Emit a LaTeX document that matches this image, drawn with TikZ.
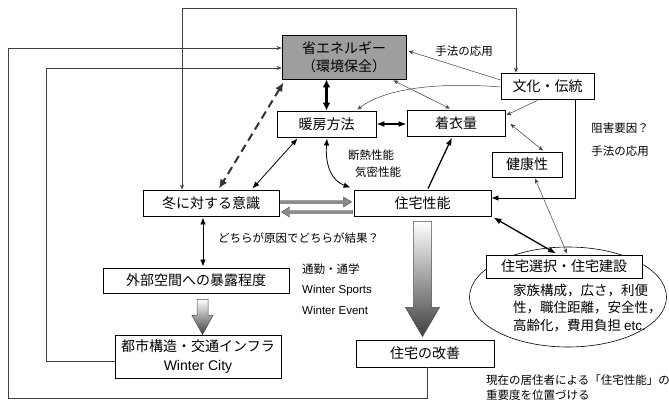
\documentclass[tikz,border=0pt]{standalone}
\usepackage{fontspec}
\setmainfont{Noto Sans CJK JP}
\newfontfamily\lat{Liberation Sans}
\usetikzlibrary{arrows.meta,calc,shapes.geometric}
\begin{document}
\begin{tikzpicture}[x=1pt,y=-1pt,
  box/.style={draw=black,line width=0.9pt,inner sep=0pt,fill=white,align=center,font=\fontsize{14}{18}\selectfont},
  lbl/.style={inner sep=0pt,font=\fontsize{11.5}{14}\selectfont},
  conn/.style={draw=black!75,line width=0.5pt},
  sarr/.style={conn,arrows={-Stealth[length=5pt,width=4pt]}},
  sarrb/.style={conn,arrows={Stealth[length=5pt,width=4pt]-Stealth[length=5pt,width=4pt]}},
  marrb/.style={draw=black,line width=0.8pt,arrows={Latex[length=7pt,width=5.5pt]-Latex[length=7pt,width=5.5pt]}},
  marr/.style={draw=black,line width=0.8pt,arrows={-Latex[length=7pt,width=5.5pt]}},
  tarr/.style={draw=black,line width=1.3pt,arrows={-Latex[length=8pt,width=6pt]}},
  tarrb/.style={draw=black,line width=1.3pt,arrows={Latex[length=8pt,width=6pt]-Latex[length=8pt,width=6pt]}},
  bigarrb/.style={draw=black,line width=2.2pt,arrows={Latex[length=8pt,width=8pt]-Latex[length=8pt,width=8pt]}},
  dasharr/.style={draw=black!80,line width=2pt,dash pattern=on 8pt off 5pt,arrows={Latex[length=9pt,width=8pt]-Latex[length=9pt,width=8pt]}},
  blockgrad/.style={top color=white,bottom color=black!75,draw=black!70,line width=0.5pt},
  blockflat/.style={fill=black!45,draw=black!70,line width=0.4pt}
]
\useasboundingbox[fill=white] (0,0) rectangle (669,401);

% ellipse behind
\node[draw=black,line width=0.6pt,ellipse,minimum width=197pt,minimum height=100pt,inner sep=0pt] (ell) at (568,297) {};

% boxes
\node[box,minimum width=124pt,minimum height=44pt,fill=black!38] (seo) at (344,57) {省エネルギー\\（環境保全）};
\node[box,minimum width=99pt,minimum height=26pt] (danbo) at (326.5,124) {暖房方法};
\node[box,minimum width=98pt,minimum height=26pt] (chakui) at (456,123) {着衣量};
\node[box,minimum width=93pt,minimum height=26pt] (bunka) at (547.5,86) {文化・伝統};
\node[box,minimum width=70pt,minimum height=25pt] (kenko) at (527,164.5) {健康性};
\node[box,minimum width=136pt,minimum height=26pt] (fuyu) at (211,203) {冬に対する意識};
\node[box,minimum width=137pt,minimum height=26pt] (jutaku) at (422.5,203) {住宅性能};
\node[box,minimum width=186pt,minimum height=25pt] (gaibu) at (196,280.5) {外部空間への暴露程度};
\node[box,minimum width=166pt,minimum height=43pt,font=\fontsize{14}{19}\selectfont] (toshi) at (198,356.5) {都市構造・交通インフラ\\{\lat Winter City}};
\node[box,minimum width=138pt,minimum height=27pt] (kaizen) at (425,353.5) {住宅の改善};
\node[box,minimum width=156pt,minimum height=23pt] (sentaku) at (564,266.5) {住宅選択・住宅建設};
\node[anchor=west,align=left,inner sep=0pt,font=\fontsize{13.5}{17.5}\selectfont] (elltext) at (513,308) {家族構成，広さ，利便\\性，職住距離，安全性，\\高齢化，費用負担 {\lat etc.}};

% labels
\node[lbl] (l1) at (464,51) {手法の応用};
\node[lbl] (l2) at (371,155) {断熱性能};
\node[lbl] (l3) at (378,172) {気密性能};
\node[lbl] (l4) at (620,128) {阻害要因？};
\node[lbl] (l5) at (620,151) {手法の応用};
\node[lbl,anchor=west] (l6) at (218,238) {どちらが原因でどちらが結果？};
\node[lbl,anchor=west] (l7) at (302,269) {通勤・通学};
\node[lbl,anchor=west,font=\lat\fontsize{11.5}{14}\selectfont] (l8) at (302,291) {Winter Sports};
\node[lbl,anchor=west,font=\lat\fontsize{11.5}{14}\selectfont] (l9) at (302,310) {Winter Event};
\node[lbl,anchor=west] (l10) at (486,380) {現在の居住者による「住宅性能」の};
\node[lbl,anchor=west] (l11) at (486,395) {重要度を位置づける};

% helper corners
\coordinate (c1) at (182,8);
\coordinate (c2) at (516,8);
\coordinate (c3) at (427,398);
\coordinate (c4) at (8,398);
\coordinate (c5) at (8,48);
\coordinate (c6) at (46,361);
\coordinate (c7) at (46,68);

% outer loops
\draw[sarrb] (fuyu.north -| c1) -- (c1) -- (c2) -- (bunka.north -| c2);
\draw[sarr] (kaizen.south -| c3) -- (c3) -- (c4) -- (c5) -- (seo.west |- c5);
\draw[sarr] (toshi.west |- c6) -- (c6) -- (c7) -- (seo.west |- c7);

% dashed
\draw[dasharr] ($(seo.south west)+(2,3)$) -- ($(fuyu.north)+(8,-1)$);

% central links
\draw[bigarrb] (danbo.north |- seo.south) -- (danbo.north);
\draw[marrb] ($(danbo.south west)+(21,1)$) -- ($(fuyu.north east)+(-27,-1)$);
\draw[tarrb] (danbo.east) -- (chakui.west |- danbo.east);
\draw[marrb] ($(danbo.south)+(0.5,1)$) .. controls (325,166) and (332,181) .. ($(jutaku.north west)+(-3,-2)$);
\draw[tarr] ($(jutaku.north)+(5.5,-1)$) -- ($(chakui.south)+(-4,1)$);
\draw[sarrb] ($(chakui.north)+(-6,-1)$) -- ($(seo.south east)+(-13,1)$);
\draw[sarr] ($(bunka.west)+(0,-6)$) -- ($(seo.east)+(2,-6)$);
\draw[sarr] ($(bunka.west)+(0,1)$) .. controls (440,82) and (385,88) .. ($(danbo.north east)+(-19,-1)$);
\draw[sarr] ($(bunka.south)+(-10,1)$) -- ($(chakui.east)+(1,-8)$);
\draw[sarrb] ($(chakui.east)+(5,1)$) -- ($(kenko.north)+(16,-1)$);
\draw[marr] ($(bunka.south east)+(-19,0)$) |- ($(jutaku.east)+(0,-5)$);
\draw[sarrb] ($(kenko.south)+(8,1)$) -- ($(sentaku.north)+(3,-1)$);
\draw[tarrb] ($(jutaku.south east)+(2,1)$) -- ($(sentaku.north)+(-8,-1)$);
\draw[marrb] ($(fuyu.south)+(-8,1)$) -- ($(gaibu.north)+(7,-1)$);

% horizontal block arrows between fuyu and jutaku
\filldraw[blockflat] ($(fuyu.east)+(1,-2.5)$) -- ($(jutaku.west)+(-10,-2.5)$) -- ($(jutaku.west)+(-10,-6)$) -- ($(jutaku.west)+(-2,-1)$) -- ($(jutaku.west)+(-10,4)$) -- ($(jutaku.west)+(-10,0.5)$) -- ($(fuyu.east)+(1,0.5)$) -- cycle;
\filldraw[blockflat] ($(jutaku.west)+(-1,7.5)$) -- ($(fuyu.east)+(10,7.5)$) -- ($(fuyu.east)+(10,4)$) -- ($(fuyu.east)+(2,9)$) -- ($(fuyu.east)+(10,14)$) -- ($(fuyu.east)+(10,10.5)$) -- ($(jutaku.west)+(-1,10.5)$) -- cycle;

% vertical gradient block arrows
\shade[blockgrad] ($(jutaku.south)+(-9,5)$) -- ($(jutaku.south)+(9,5)$) -- ($(jutaku.south)+(9,91)$) -- ($(jutaku.south)+(17,91)$) -- ($(kaizen.north -| jutaku.south)+(0,-3)$) -- ($(jutaku.south)+(-17,91)$) -- ($(jutaku.south)+(-9,91)$) -- cycle;
\shade[blockgrad] ($(gaibu.south)+(1,6)$) -- ($(gaibu.south)+(12,6)$) -- ($(gaibu.south)+(12,22)$) -- ($(gaibu.south)+(17,22)$) -- ($(toshi.north -| gaibu.south)+(6.5,0)$) -- ($(gaibu.south)+(-4,22)$) -- ($(gaibu.south)+(1,22)$) -- cycle;

\end{tikzpicture}
\end{document}
